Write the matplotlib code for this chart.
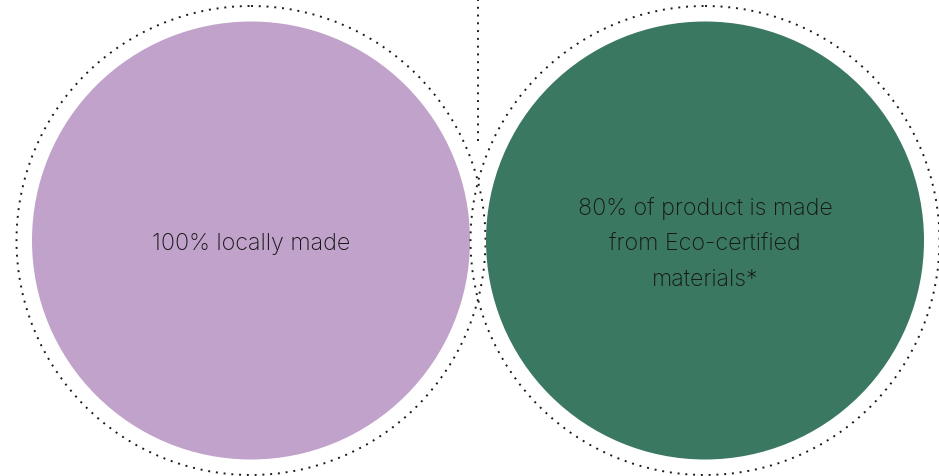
import matplotlib
matplotlib.use("Agg")
import matplotlib.pyplot as plt
from matplotlib.patches import Circle

# ---------------------------------------------------------------------------
# Content
# ---------------------------------------------------------------------------
labels = ["100% locally made",
          "80% of product is made\nfrom Eco-certified\nmaterials*"]
colors = ["#c1a2cb", "#3a7862"]

# layout (pixels)
W, H = 939, 477
centers_x = [251, 705]
center_y = 241.5
r_fill = 219
r_dot = 234.5
stem_x, stem_top, stem_bottom = 478, 0, 143

fig = plt.figure(figsize=(W / 100, H / 100), dpi=100, facecolor="white")
ax = fig.add_axes([0, 0, 1, 1])
ax.set_xlim(0, W)
ax.set_ylim(H, 0)
ax.set_aspect("equal")
ax.axis("off")

dot_style = dict(linestyle=(0, (1, 3)), linewidth=1.4, color="#1a1a1a")

for cx, col, lab in zip(centers_x, colors, labels):
    ax.add_patch(Circle((cx, center_y), r_dot, fill=False, **dot_style))
    ax.add_patch(Circle((cx, center_y), r_fill, facecolor=col, edgecolor="none"))
    ax.text(cx, center_y + 2.5, lab, ha="center", va="center", fontsize=16.8,
            family="Inter", fontweight="light", color="#161616",
            linespacing=1.8)

ax.plot([stem_x, stem_x], [stem_top, stem_bottom], **dot_style)

fig.savefig("out.png", dpi=100, facecolor="white")
